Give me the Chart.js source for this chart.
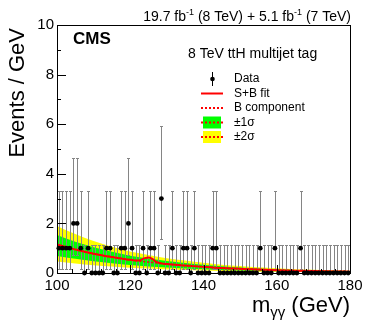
<!DOCTYPE html>
<html>
<head>
<meta charset="utf-8">
<script src="https://cdn.jsdelivr.net/npm/chart.js@4.4.1/dist/chart.umd.min.js"></script>
<style>
html, body { margin: 0; padding: 0; background: #fff; }
</style>
</head>
<body>
<canvas id="c" width="374" height="323"></canvas>
<script>
// binned data: events per 1 GeV bin, 100-180 GeV
const binLow = 100;
const binWidth = 1;
const counts = [
    1, 1, 1, 1, 2, 2, 1, 0, 1, 0,
    0, 0, 0, 1, 1, 0, 0, 1, 1, 2,
    1, 0, 0, 1, 0, 1, 1, 0, 3, 0,
    0, 1, 0, 0, 1, 1, 0, 1, 0, 0,
    0, 0, 1, 1, 0, 0, 0, 0, 0, 0,
    0, 0, 0, 0, 0, 1, 0, 0, 0, 1,
    0, 0, 0, 0, 0, 0, 1, 0, 0, 0,
    0, 0, 0, 0, 0, 0, 0, 0, 0, 0
];
// poisson errors indexed by count
const errDown = [0, 0.827, 1.292, 1.633];
const errUp = [1.148, 2.299, 2.638, 2.918];

// S+B fit and B component
const fitMass = [100, 105, 110, 115, 120, 122, 123, 124, 125, 126, 127, 128, 130, 135, 140, 145, 150, 155, 160, 165, 170, 175, 180];
const fitSB   = [1.15, 0.95, 0.78, 0.645, 0.53, 0.50, 0.53, 0.60, 0.63, 0.57, 0.46, 0.40, 0.36, 0.30, 0.247, 0.20, 0.168, 0.138, 0.114, 0.094, 0.078, 0.064, 0.053];
const fitB    = [1.15, 0.95, 0.78, 0.645, 0.53, 0.49, 0.47, 0.455, 0.44, 0.425, 0.41, 0.395, 0.36, 0.30, 0.247, 0.20, 0.168, 0.138, 0.114, 0.094, 0.078, 0.064, 0.053];

// uncertainty bands on B
const bandMass = [100, 105, 110, 115, 120, 125, 130, 135, 140, 145, 150, 155, 160, 165, 170, 175, 180];
const band2Hi = [1.90, 1.57, 1.29, 1.06, 0.87, 0.73, 0.59, 0.50, 0.41, 0.33, 0.28, 0.23, 0.19, 0.155, 0.13, 0.11, 0.09];
const band1Hi = [1.53, 1.26, 1.04, 0.86, 0.70, 0.585, 0.48, 0.40, 0.33, 0.27, 0.22, 0.18, 0.15, 0.125, 0.10, 0.085, 0.07];
const band1Lo = [0.69, 0.57, 0.47, 0.39, 0.32, 0.26, 0.22, 0.18, 0.15, 0.12, 0.10, 0.083, 0.068, 0.056, 0.047, 0.038, 0.032];
const band2Lo = [0.46, 0.38, 0.31, 0.26, 0.21, 0.18, 0.14, 0.12, 0.10, 0.08, 0.067, 0.055, 0.046, 0.038, 0.031, 0.026, 0.021];

const xTicks = [100, 120, 140, 160, 180];
const yTicks = [0, 2, 4, 6, 8, 10];
const xMinorStep = 4;
const yMinorStep = 1;

const FONT = '"Liberation Sans", Arial, Helvetica, sans-serif';

const pts = (xs, ys) => xs.map((x, i) => ({ x: x, y: ys[i] }));
const dataPts = counts.map((n, i) => ({ x: binLow + (i + 0.5) * binWidth, y: n }));

const errorBars = {
    id: 'errorBars',
    afterDatasetDraw(chart, args) {
        if (args.index !== 3) return;
        const { ctx, scales: { x, y } } = chart;
        ctx.save();
        ctx.strokeStyle = '#858585';
        ctx.lineWidth = 1;
        counts.forEach((n, i) => {
            const px = Math.round(x.getPixelForValue(binLow + (i + 0.5) * binWidth)) + 0.5;
            const yTop = Math.round(y.getPixelForValue(n + errUp[n])) + 0.5;
            const yBot = Math.round(y.getPixelForValue(n - errDown[n])) + 0.5;
            ctx.beginPath();
            ctx.moveTo(px, yTop); ctx.lineTo(px, yBot);
            ctx.moveTo(px - 1.5, yTop); ctx.lineTo(px + 1.5, yTop);
            ctx.moveTo(px - 1.5, yBot); ctx.lineTo(px + 1.5, yBot);
            ctx.stroke();
        });
        ctx.restore();
    }
};

const decorations = {
    id: 'decorations',
    afterDraw(chart) {
        const { ctx, chartArea: a, scales: { x, y } } = chart;
        ctx.save();
        // frame
        ctx.strokeStyle = '#000';
        ctx.lineWidth = 1;
        ctx.strokeRect(Math.round(a.left) + 0.5, Math.round(a.top) + 0.5, Math.round(a.right - a.left), Math.round(a.bottom - a.top));
        // ticks, pointing inward
        ctx.beginPath();
        for (let v = x.min; v <= x.max + 1e-6; v += xMinorStep) {
            const px = Math.round(x.getPixelForValue(v)) + 0.5;
            const len = xTicks.includes(v) ? 8 : 4;
            ctx.moveTo(px, a.bottom); ctx.lineTo(px, a.bottom - len);
        }
        for (let v = y.min; v <= y.max + 1e-6; v += yMinorStep) {
            const py = Math.round(y.getPixelForValue(v)) + 0.5;
            const len = yTicks.includes(v) ? 9 : 4;
            ctx.moveTo(a.left, py); ctx.lineTo(a.left + len, py);
        }
        ctx.stroke();

        ctx.fillStyle = '#000';
        // lumi label
        ctx.textBaseline = 'alphabetic';
        const parts = [
            ['19.7 fb', 14, 0], ['-1', 9, -6], [' (8 TeV) + 5.1 fb', 14, 0], ['-1', 9, -6], [' (7 TeV)', 14, 0]
        ];
        let total = 0;
        parts.forEach(p => { ctx.font = p[1] + 'px ' + FONT; total += ctx.measureText(p[0]).width; });
        let cx = a.right + 1 - total;
        ctx.textAlign = 'left';
        parts.forEach(p => {
            ctx.font = p[1] + 'px ' + FONT;
            ctx.fillText(p[0], cx, 21 + p[2]);
            cx += ctx.measureText(p[0]).width;
        });

        ctx.font = 'bold 17px ' + FONT;
        ctx.fillText('CMS', 73, 44);
        ctx.font = '14px ' + FONT;
        ctx.fillText('8 TeV ttH multijet tag', 188, 58);

        // axis titles
        ctx.font = '22px ' + FONT;
        ctx.save();
        ctx.translate(24, a.top + 3);
        ctx.rotate(-Math.PI / 2);
        ctx.textAlign = 'right';
        ctx.fillText('Events / GeV', 0, 0);
        ctx.restore();

        const xt = [['m', 22, 0], ['\u03b3\u03b3', 15, 5], [' (GeV)', 22, 0]];
        total = 0;
        xt.forEach(p => { ctx.font = p[1] + 'px ' + FONT; total += ctx.measureText(p[0]).width; });
        cx = a.right - total;
        xt.forEach(p => {
            ctx.font = p[1] + 'px ' + FONT;
            ctx.fillText(p[0], cx, 312 + p[2]);
            cx += ctx.measureText(p[0]).width;
        });

        // legend
        const lx0 = 201, lx1 = 223, tx = 234;
        const rows = [79, 93.5, 108, 122.5, 137];
        const labels = ['Data', 'S+B fit', 'B component', '\u00b11\u03c3', '\u00b12\u03c3'];
        ctx.fillStyle = '#00ff00';
        ctx.fillRect(203, rows[3] - 6, 18, 12);
        ctx.fillStyle = '#ffff00';
        ctx.fillRect(203, rows[4] - 6, 18, 12);
        ctx.strokeStyle = '#000';
        ctx.beginPath();
        ctx.moveTo(212.5, rows[0] - 7); ctx.lineTo(212.5, rows[0] + 7);
        ctx.stroke();
        ctx.fillStyle = '#000';
        ctx.beginPath();
        ctx.arc(212.5, rows[0], 2.3, 0, Math.PI * 2);
        ctx.fill();
        ctx.strokeStyle = '#ff0000';
        ctx.lineWidth = 2;
        ctx.beginPath();
        ctx.moveTo(lx0, rows[1]); ctx.lineTo(lx1, rows[1]);
        ctx.stroke();
        ctx.setLineDash([2, 2]);
        [2, 3, 4].forEach(r => {
            ctx.beginPath();
            ctx.moveTo(lx0, rows[r]); ctx.lineTo(lx1, rows[r]);
            ctx.stroke();
        });
        ctx.setLineDash([]);
        ctx.fillStyle = '#000';
        ctx.font = '12px ' + FONT;
        ctx.textBaseline = 'middle';
        labels.forEach((t, i) => ctx.fillText(t, tx, rows[i]));
        ctx.restore();
    }
};

new Chart(document.getElementById('c'), {
    type: 'line',
    data: {
        datasets: [
            {
                type: 'scatter',
                data: dataPts,
                pointRadius: 2.4,
                pointBackgroundColor: '#000',
                pointBorderWidth: 0,
                clip: false,
                order: 0
            },
            {
                data: pts(fitMass, fitSB),
                borderColor: '#ff0000',
                borderWidth: 2,
                pointRadius: 0,
                cubicInterpolationMode: 'monotone',
                order: 1
            },
            {
                data: pts(fitMass, fitB),
                borderColor: '#ff0000',
                borderWidth: 1.5,
                borderDash: [2, 2],
                pointRadius: 0,
                cubicInterpolationMode: 'monotone',
                order: 2
            },
            {
                data: pts(bandMass, band1Hi),
                borderWidth: 0,
                pointRadius: 0,
                backgroundColor: '#00ff00',
                fill: { target: 4 },
                cubicInterpolationMode: 'monotone',
                order: 3
            },
            {
                data: pts(bandMass, band1Lo),
                borderWidth: 0,
                pointRadius: 0,
                cubicInterpolationMode: 'monotone',
                order: 4
            },
            {
                data: pts(bandMass, band2Hi),
                borderWidth: 0,
                pointRadius: 0,
                backgroundColor: '#ffff00',
                fill: { target: 6 },
                cubicInterpolationMode: 'monotone',
                order: 5
            },
            {
                data: pts(bandMass, band2Lo),
                borderWidth: 0,
                pointRadius: 0,
                cubicInterpolationMode: 'monotone',
                order: 6
            }
        ]
    },
    options: {
        responsive: false,
        animation: false,
        devicePixelRatio: 1,
        layout: { padding: { top: 25, right: 24, left: 0, bottom: 0 } },
        scales: {
            x: {
                type: 'linear',
                min: 100, max: 180,
                afterBuildTicks: s => { s.ticks = xTicks.map(v => ({ value: v })); },
                afterFit: s => { s.height = 50; },
                ticks: { color: '#000', font: { family: FONT, size: 15 }, padding: 4, maxRotation: 0 },
                grid: { display: false, drawTicks: false },
                border: { display: false }
            },
            y: {
                min: 0, max: 10,
                afterBuildTicks: s => { s.ticks = yTicks.map(v => ({ value: v })); },
                afterFit: s => { s.width = 57; },
                ticks: { color: '#000', font: { family: FONT, size: 15 }, padding: 3 },
                grid: { display: false, drawTicks: false },
                border: { display: false }
            }
        },
        plugins: {
            legend: { display: false },
            tooltip: { enabled: false }
        }
    },
    plugins: [errorBars, decorations]
});
</script>
</body>
</html>
